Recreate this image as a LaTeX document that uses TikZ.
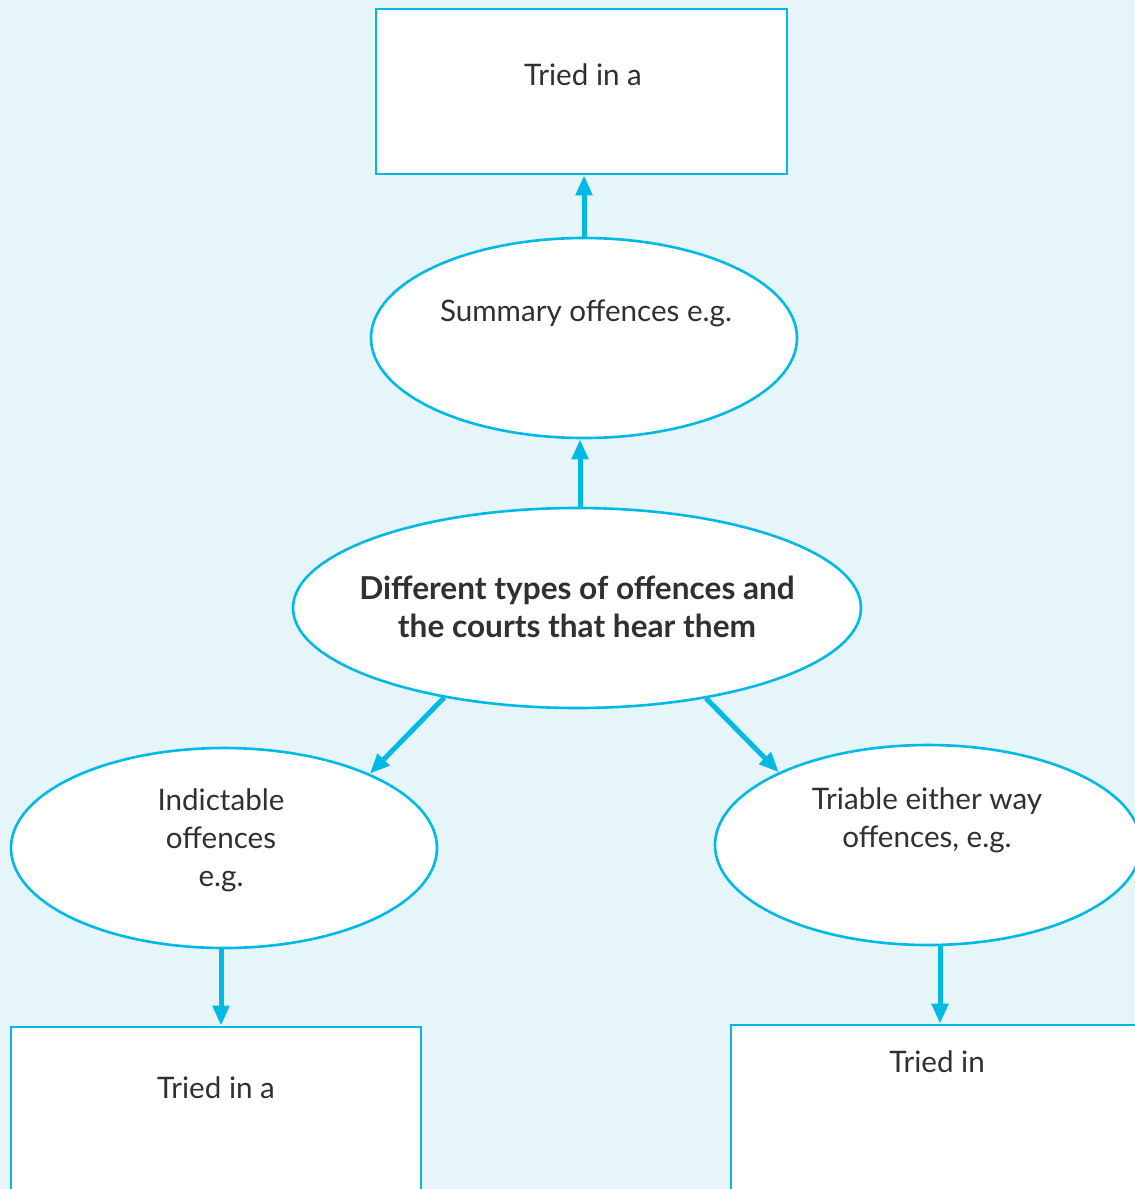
\documentclass[tikz,border=0pt]{standalone}
\usepackage{fontspec}
\setmainfont{Lato}
\usepackage{xcolor}
\usetikzlibrary{shapes.geometric,arrows.meta}
\definecolor{courtblue}{HTML}{00B9E4}
\definecolor{paleblue}{HTML}{E6F5FA}
\definecolor{inkgray}{HTML}{303030}
\tikzset{
  oval/.style={ellipse, draw=courtblue, line width=1.3pt, fill=white, inner sep=0pt, minimum height=100pt},
  courtbox/.style={rectangle, draw=courtblue, line width=1.3pt, fill=white, inner sep=0pt},
  txt/.style={text=inkgray, font=\fontsize{14.8}{19}\selectfont, align=center},
  flow/.style={draw=courtblue, line width=2.5pt, -{Triangle[length=10pt,width=8pt]}}
}
\begin{document}
\begin{tikzpicture}[x=0.5pt,y=-0.5pt]
\fill[paleblue] (0,0) rectangle (1135,1189);
\useasboundingbox (0,0) rectangle (1135,1189);
\clip (0,0) rectangle (1135,1189);
\node[courtbox, minimum width=205.5pt, minimum height=82.5pt] (trytop) at (581.5,91.5) {};
\node[txt] (trytoptxt) at (583,75) {Tried in a};
\node[oval, minimum width=213pt] (summ) at (584,338) {};
\node[txt] (summtxt) at (586,313) {Summary offences e.g.};
\node[oval, minimum width=284pt] (cent) at (577,608) {};
\node[txt, font=\fontsize{15.8}{19}\bfseries] (centtxt) at (577,607) {Different types of offences and\\the courts that hear them};
\node[oval, minimum width=213pt] (ind) at (224,848) {};
\node[txt] (indtxt) at (221,840) {Indictable\\offences\\e.g.};
\node[oval, minimum width=213pt] (trib) at (928,845) {};
\node[txt] (tribtxt) at (927,820) {Triable either way\\offences, e.g.};
\node[courtbox, minimum width=205pt, minimum height=117pt] (tryleft) at (216,1144) {};
\node[txt] (trylefttxt) at (216,1088) {Tried in a};
\node[courtbox, minimum width=205pt, minimum height=118pt] (tryright) at (936,1143) {};
\node[txt] (tryrighttxt) at (937,1062) {Tried in};
\draw[flow] (summ.north) -- (summ.north |- trytop.south);
\draw[flow] ([xshift=1.5pt]cent.north) -- ([xshift=1.5pt]cent.north |- summ.south);
\draw[flow] (cent.214) -- (ind.27);
\draw[flow] (cent.325) -- (trib.154);
\draw[flow] ([xshift=-1.5pt]ind.south) -- ([xshift=-1.5pt]ind.south |- tryleft.north);
\draw[flow] ([xshift=6pt]trib.south) -- ([xshift=6pt]trib.south |- tryright.north);
\end{tikzpicture}
\end{document}
